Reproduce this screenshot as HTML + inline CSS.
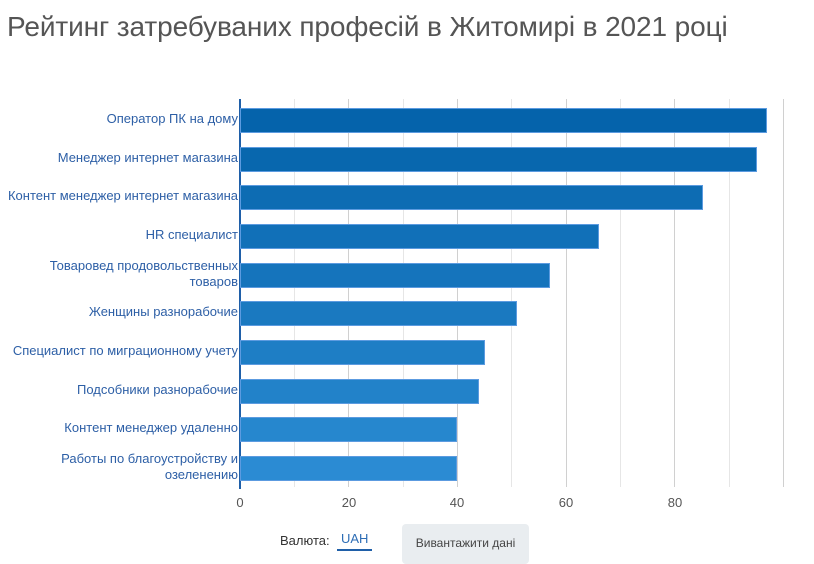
<!DOCTYPE html>
<html><head><meta charset="utf-8"><style>
body{margin:0;width:814px;height:560px;background:#fff;font-family:"Liberation Sans",sans-serif;position:relative;overflow:hidden}
.t{position:absolute;left:7px;top:11px;font-size:28px;color:#555;letter-spacing:-0.1px}
.lab{position:absolute;right:576px;font-size:13px;color:#2d5fa6;text-align:right;line-height:16px;white-space:nowrap}
.bar{position:absolute;left:240px;height:25px;border:1px solid #5c9be0;box-sizing:border-box}
.g{position:absolute;top:99px;height:388px;width:1px;background:#e6e6e6}
.g2{background:#d0d0d0}
.tk{position:absolute;top:495px;font-size:13px;color:#555;width:40px;text-align:center}
</style></head><body>
<div class="t">Рейтинг затребуваних професій в Житомирі в 2021 році</div>
<div class="g" style="left:294px"></div><div class="g g2" style="left:348px"></div>
<div class="g" style="left:403px"></div><div class="g g2" style="left:457px"></div>
<div class="g" style="left:511px"></div><div class="g g2" style="left:566px"></div>
<div class="g" style="left:620px"></div><div class="g g2" style="left:674px"></div>
<div class="g" style="left:729px"></div><div class="g g2" style="left:783px"></div>
<div style="position:absolute;left:239px;top:99px;width:2px;height:390px;background:#1f5fa8"></div>

<div class="bar" style="top:108px;width:527px;background:#0563ab"></div>
<div class="bar" style="top:147px;width:517px;background:#0867ae"></div>
<div class="bar" style="top:185px;width:463px;background:#0d6cb3"></div>
<div class="bar" style="top:224px;width:359px;background:#1170b8"></div>
<div class="bar" style="top:263px;width:310px;background:#1574bc"></div>
<div class="bar" style="top:301px;width:277px;background:#1a79c0"></div>
<div class="bar" style="top:340px;width:245px;background:#1e7ec5"></div>
<div class="bar" style="top:379px;width:239px;background:#2282c9"></div>
<div class="bar" style="top:417px;width:217px;background:#2687ce"></div>
<div class="bar" style="top:456px;width:217px;background:#2b8bd3"></div>

<div class="lab" style="top:111px">Оператор ПК на дому</div>
<div class="lab" style="top:150px">Менеджер интернет магазина</div>
<div class="lab" style="top:188px">Контент менеджер интернет магазина</div>
<div class="lab" style="top:227px">HR специалист</div>
<div class="lab" style="top:258px">Товаровед продовольственных<br>товаров</div>
<div class="lab" style="top:304px">Женщины разнорабочие</div>
<div class="lab" style="top:343px">Специалист по миграционному учету</div>
<div class="lab" style="top:382px">Подсобники разнорабочие</div>
<div class="lab" style="top:420px">Контент менеджер удаленно</div>
<div class="lab" style="top:451px">Работы по благоустройству и<br>озеленению</div>

<div class="tk" style="left:220px">0</div><div class="tk" style="left:329px">20</div>
<div class="tk" style="left:437px">40</div><div class="tk" style="left:546px">60</div>
<div class="tk" style="left:655px">80</div>

<div style="position:absolute;left:280px;top:533px;font-size:13px;color:#333">Валюта:</div>
<div style="position:absolute;left:337px;top:531px;font-size:13px;color:#2d6db5;border-bottom:2px solid #1f5fa8;padding:0 4px 3px 4px">UAH</div>
<div style="position:absolute;left:402px;top:524px;width:127px;height:40px;background:#e9edf0;border-radius:4px;font-size:12px;color:#444;text-align:center;line-height:38px">Вивантажити дані</div>
</body></html>
